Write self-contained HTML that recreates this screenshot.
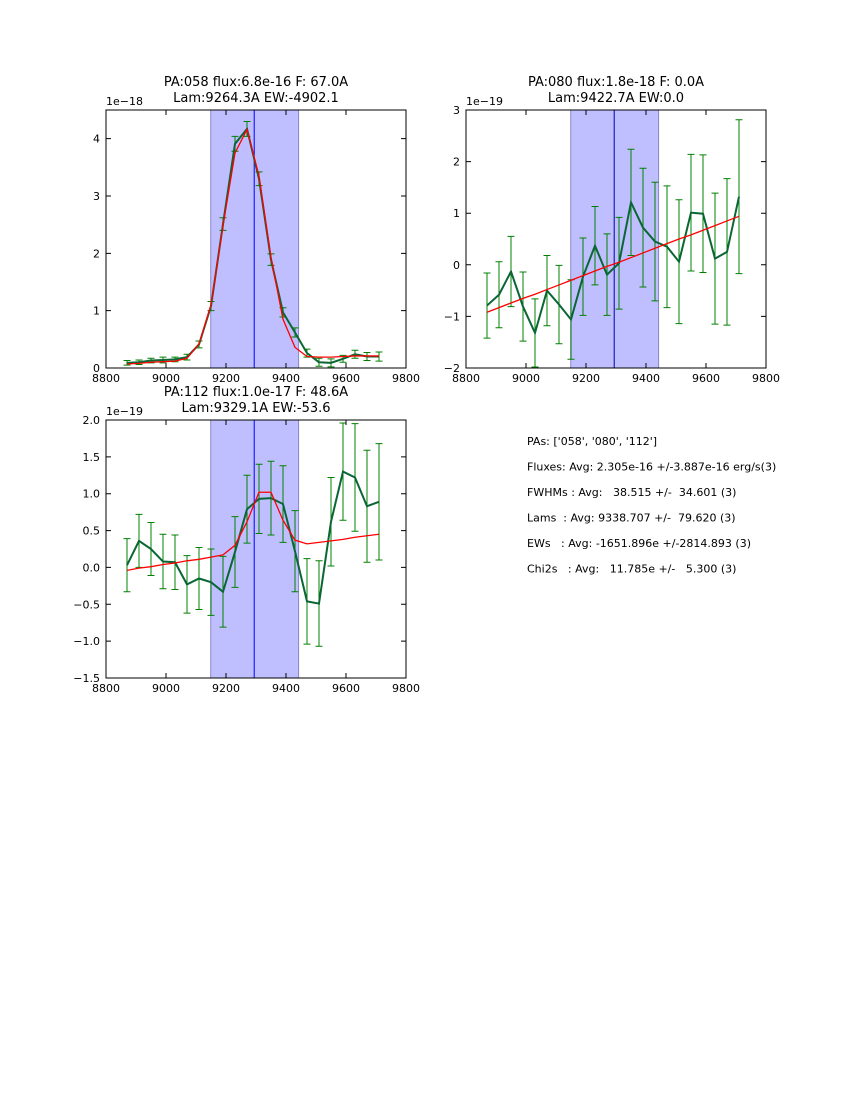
<!DOCTYPE html>
<html><head><meta charset="utf-8"><style>
body{margin:0;background:#fff;width:850px;height:1100px;overflow:hidden;}
svg{position:absolute;left:0;top:0;font-family:"DejaVu Sans","Liberation Sans",sans-serif;}
</style></head><body>
<svg id="fig" width="850" height="1100"></svg>
<script>
const waveStart = 8870;
const waveStep = 40.0;
const p1Flux = [0.09,0.10,0.13,0.14,0.15,0.19,0.41,1.08,2.51,3.91,4.17,3.30,1.89,0.97,0.62,0.26,0.10,0.09,0.16,0.24,0.20,0.20];
const p1Err = [0.04,0.04,0.04,0.05,0.04,0.05,0.06,0.08,0.11,0.13,0.13,0.12,0.10,0.08,0.08,0.07,0.07,0.07,0.06,0.07,0.07,0.08];
const p1Fit = [0.07,0.08,0.10,0.11,0.12,0.17,0.42,1.10,2.48,3.75,4.16,3.35,1.93,0.85,0.36,0.20,0.19,0.19,0.20,0.21,0.21,0.21];
const p2Flux = [-0.79,-0.58,-0.13,-0.81,-1.32,-0.50,-0.77,-1.06,-0.23,0.37,-0.19,0.03,1.21,0.72,0.45,0.35,0.06,1.01,0.99,0.12,0.25,1.32];
const p2Err = [0.63,0.64,0.68,0.67,0.66,0.68,0.76,0.77,0.75,0.76,0.79,0.89,1.03,1.15,1.15,1.18,1.20,1.13,1.14,1.27,1.42,1.49];
const p2Fit = [-0.92,-0.83,-0.74,-0.65,-0.57,-0.48,-0.39,-0.30,-0.21,-0.12,-0.03,0.05,0.14,0.23,0.32,0.41,0.50,0.58,0.67,0.76,0.85,0.94];
const p3Flux = [0.03,0.36,0.25,0.08,0.07,-0.23,-0.15,-0.20,-0.33,0.21,0.79,0.93,0.94,0.86,0.22,-0.46,-0.49,0.62,1.30,1.22,0.83,0.89];
const p3Err = [0.36,0.36,0.36,0.37,0.37,0.39,0.42,0.45,0.48,0.48,0.46,0.47,0.50,0.52,0.55,0.58,0.58,0.60,0.66,0.73,0.76,0.79];
const p3Fit = [-0.04,-0.01,0.01,0.04,0.06,0.09,0.11,0.14,0.17,0.30,0.62,1.02,1.02,0.64,0.37,0.32,0.34,0.36,0.38,0.41,0.43,0.45];
const xTicks = [8800,9000,9200,9400,9600,9800];
const p1YTicks = [0,1,2,3,4];
const p2YTicks = [-2,-1,0,1,2,3];
const p3YTicks = [-1.5,-1.0,-0.5,0.0,0.5,1.0,1.5,2.0];
const p3YLabels = ["−1.5","−1.0","−0.5","0.0","0.5","1.0","1.5","2.0"];
const bandLo = 9149, bandHi = 9442, lineCenter = 9294;

const NS="http://www.w3.org/2000/svg";
const svg=document.getElementById('fig');
function mk(tag,attrs,parent){const e=document.createElementNS(NS,tag);for(const k in attrs)e.setAttribute(k,attrs[k]);(parent||svg).appendChild(e);return e;}

function panel(cfg){
  const g=mk('g',{});
  
  
  const L=cfg.x,T=cfg.y,W=300,H=258;
  const sx=v=>L+(v-8800)/1000*W;
  const sy=v=>T+H-(v-cfg.ymin)/(cfg.ymax-cfg.ymin)*H;
  const band=mk('rect',{x:sx(bandLo),y:T,width:sx(bandHi)-sx(bandLo),height:H,fill:'#bfbfff',stroke:'#8888c8','stroke-width':1},g);
  
  
  const cl=mk('line',{x1:sx(lineCenter),x2:sx(lineCenter),y1:T,y2:T+H,stroke:cfg.cColor,'stroke-width':1},g);
  
  
  const xs=cfg.flux.map((_,i)=>waveStart+waveStep*i);
  cfg.flux.forEach((v,i)=>{
    const x=sx(xs[i]),y1=sy(v+cfg.err[i]),y2=sy(v-cfg.err[i]);
    const eb=mk('path',{d:`M${x},${y1}V${y2}M${x-3.5},${y1}H${x+3.5}M${x-3.5},${y2}H${x+3.5}`,stroke:'#008000','stroke-width':1,fill:'none'},g);
    
    
  });
  const dl=mk('polyline',{points:cfg.flux.map((v,i)=>sx(xs[i])+','+sy(v)).join(' '),fill:'none',stroke:'#0a6634','stroke-width':2},g);
  
  
  const fl=mk('polyline',{points:cfg.fit.map((v,i)=>sx(xs[i])+','+sy(v)).join(' '),fill:'none',stroke:'#ff0000','stroke-width':1.3},g);
  
  
  const fr=mk('rect',{x:L,y:T,width:W,height:H,fill:'none',stroke:'#000','stroke-width':1},g);
  
  
  xTicks.forEach(t=>{
    const x=sx(t);
    mk('path',{d:`M${x},${T+H}v-5M${x},${T}v5`,stroke:'#000'},g);
    const tx=mk('text',{x:x,y:T+H+14,'font-size':11,'text-anchor':'middle'},g);tx.textContent=t;
    
    
  });
  cfg.yt.forEach((t,i)=>{
    const y=sy(t);
    mk('path',{d:`M${L},${y}h5M${L+W},${y}h-5`,stroke:'#000'},g);
    const tx=mk('text',{x:L-6,y:y+4,'font-size':11,'text-anchor':'end'},g);tx.textContent=cfg.yl[i];
    
    
  });
  const off=mk('text',{x:L,y:T-5,'font-size':11},g);off.textContent=cfg.offset;
  
  
  cfg.title.forEach((s,i)=>{
    const t=mk('text',{x:L+W/2,y:T-24+i*16,'font-size':13,'text-anchor':'middle'},g);t.textContent=s;
    
    
  });
}
panel({name:'panel-pa058',x:106,y:110,ymin:0,ymax:4.5,flux:p1Flux,err:p1Err,fit:p1Fit,yt:p1YTicks,yl:p1YTicks.map(String),offset:'1e−18',cColor:'#0000ff',title:['PA:058 flux:6.8e-16 F: 67.0A','Lam:9264.3A EW:-4902.1']});
panel({name:'panel-pa080',x:466,y:110,ymin:-2,ymax:3,flux:p2Flux,err:p2Err,fit:p2Fit,yt:p2YTicks,yl:p2YTicks.map(v=>String(v).replace('-','−')),offset:'1e−19',cColor:'#0000aa',title:['PA:080 flux:1.8e-18 F: 0.0A','Lam:9422.7A EW:0.0']});
panel({name:'panel-pa112',x:106,y:420,ymin:-1.5,ymax:2.0,flux:p3Flux,err:p3Err,fit:p3Fit,yt:p3YTicks,yl:p3YLabels,offset:'1e−19',cColor:'#0000ff',title:['PA:112 flux:1.0e-17 F: 48.6A','Lam:9329.1A EW:-53.6']});

const stats=["PAs: ['058', '080', '112']","Fluxes: Avg: 2.305e-16 +/-3.887e-16 erg/s(3)","FWHMs : Avg:   38.515 +/-  34.601 (3)","Lams  : Avg: 9338.707 +/-  79.620 (3)","EWs   : Avg: -1651.896e +/-2814.893 (3)","Chi2s   : Avg:   11.785e +/-   5.300 (3)"];
stats.forEach((s,i)=>{
  const t=mk('text',{x:527,y:445+i*25.5,'font-size':11,'xml:space':'preserve'});
  t.style.whiteSpace='pre';
  t.textContent=s;
  
  
});
</script>
</body></html>
